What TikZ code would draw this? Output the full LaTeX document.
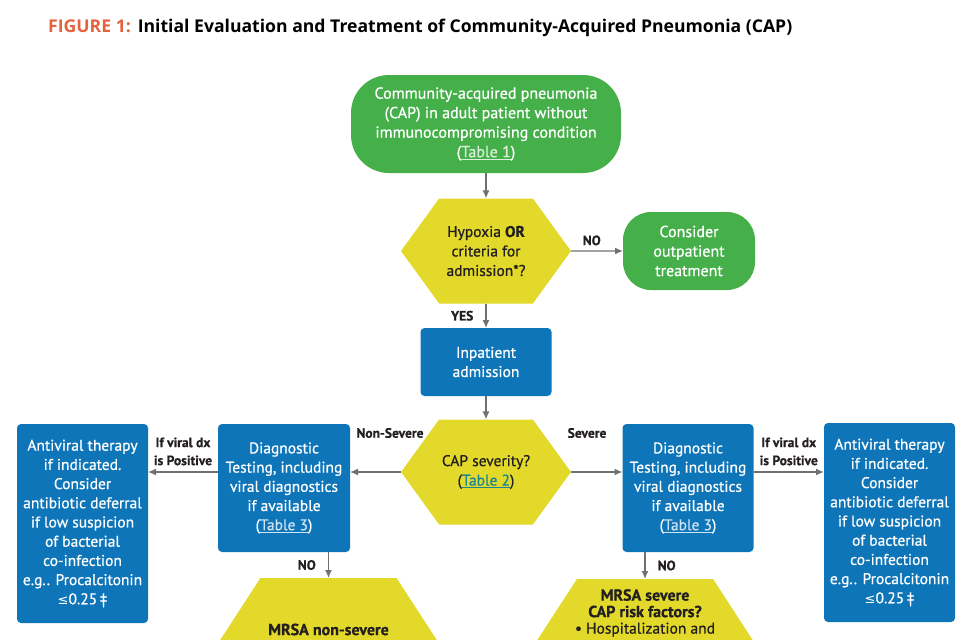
\documentclass[tikz,border=0pt]{standalone}
\usepackage{fontspec}
\setmainfont{PT Sans}[FakeBold=0.7]
\newfontfamily\titlefont{Open Sans}
\newfontfamily\symfont{DejaVu Sans}
\usetikzlibrary{positioning, arrows.meta, shapes.symbols}

\definecolor{capgreen}{HTML}{45B04A}
\definecolor{capblue}{HTML}{0F75B9}
\definecolor{capyellow}{HTML}{E2D92B}
\definecolor{capgrey}{HTML}{707070}
\definecolor{caporange}{HTML}{E5623C}
\definecolor{capteal}{HTML}{1B8590}
\definecolor{capink}{HTML}{231F20}

\newcommand{\tablelink}[2][white]{\textcolor{#1}{\underline{#2}}}

\tikzset{
    startbox/.style={fill=capgreen, text=white, align=center, inner sep=0pt, outer sep=0pt, font=\fontsize{16}{19.5}\selectfont},
    procbox/.style={fill=capblue, text=white, align=center, inner sep=0pt, outer sep=0pt, rounded corners=4pt, font=\fontsize{15.5}{19.2}\selectfont},
    decision/.style={shape=signal, signal to=west and east, signal pointer angle=108, fill=capyellow, text=capink, align=center, inner sep=0pt, outer sep=0pt, minimum width=170pt, minimum height=105pt, font=\fontsize{15.5}{19.5}\selectfont},
    hextext/.style={text=capink, align=center, inner sep=0pt, font=\fontsize{15.5}{16.5}\selectfont},
    elabel/.style={text=capink, align=center, inner sep=0pt, font=\bfseries\fontsize{13.5}{18}\selectfont},
    arrow/.style={-{Latex[length=8pt, width=7pt]}, line width=1.4pt, capgrey}
}

\begin{document}
\begin{tikzpicture}[x=1pt, y=-1pt]
        \useasboundingbox (0,0) rectangle (975,640);
        \clip (0,0) rectangle (975,640);

        % Title
        \node[anchor=west, inner sep=0pt, font=\titlefont\bfseries\fontsize{17.6}{21}\selectfont] (title) at (48,28)
            {\textcolor{caporange}{FIGURE 1:}\hspace{7pt}Initial Evaluation and Treatment of Community-Acquired Pneumonia (CAP)};

        % Top of the chart
        \node[startbox, rounded corners=38pt, minimum width=270pt, minimum height=98pt] (cap) at (486,124)
            {Community-acquired pneumonia\\(CAP) in adult patient without\\immunocompromising condition\\(\tablelink[white!80!capgreen]{Table 1})};
        \node[decision] (hypox) at (486,251) {Hypoxia \textbf{OR}\\criteria for\\admission*?};
        \node[startbox, rounded corners=28pt, minimum width=132pt, minimum height=78pt] (outpt) at (689,251)
            {Consider\\outpatient\\treatment};
        \node[procbox, minimum width=131pt, minimum height=68pt] (inpt) at (486,362) {Inpatient\\admission};
        \node[decision] (sever) at (486,472) {CAP severity?\\(\tablelink[capteal]{Table 2})};

        % Non-severe side
        \node[procbox, minimum width=132pt, minimum height=128pt] (ldiag) at (284,488)
            {Diagnostic\\Testing, including\\viral diagnostics\\if available\\(\tablelink[white!80!capblue]{Table 3})};
        \node[procbox, minimum width=131pt, minimum height=199pt] (lanti) at (82.5,523.5)
            {Antiviral therapy\\if indicated.\\Consider\\antibiotic deferral\\if low suspicion\\of bacterial\\co-infection\\e.g.. Procalcitonin\\{\symfont\fontsize{13}{14}\selectfont ≤}0.25\,‡};
        \node[decision, signal pointer angle=114, minimum width=240pt, minimum height=160pt] (lmrsa) at (328.5,658) {};
        \node[hextext, font=\bfseries\fontsize{16}{17}\selectfont] (lmrsat) at (328.5,629.5) {MRSA non-severe};

        % Severe side
        \node[procbox, minimum width=131pt, minimum height=128pt] (rdiag) at (688,488)
            {Diagnostic\\Testing, including\\viral diagnostics\\if available\\(\tablelink[white!80!capblue]{Table 3})};
        \node[procbox, minimum width=131pt, minimum height=199pt] (ranti) at (889.5,522.5)
            {Antiviral therapy\\if indicated.\\Consider\\antibiotic deferral\\if low suspicion\\of bacterial\\co-infection\\e.g.. Procalcitonin\\{\symfont\fontsize{13}{14}\selectfont ≤}0.25\,‡};
        \node[decision, signal pointer angle=114, minimum width=240pt, minimum height=160pt] (rmrsa) at (645,659) {};
        \node[hextext, below=10pt of rmrsa.north] (rmrsat)
            {\textbf{\fontsize{16}{17}\selectfont MRSA severe}\\\textbf{\fontsize{16}{17}\selectfont CAP risk factors?}\\[0pt]• Hospitalization and};

        % Edge labels
        \node[elabel] (nsevl) at (390,433) {Non-Severe};
        \node[elabel] (sevl) at (587,433) {Severe};

        % Connectors
        \draw[arrow] (cap) -- (hypox);
        \draw[arrow] (hypox) -- node[elabel, above=5pt, pos=0.4] {NO} (outpt);
        \draw[arrow] (hypox) -- node[elabel, left=12pt] {YES} (inpt);
        \draw[arrow] (inpt) -- (sever);
        \draw[arrow] (sever.west) -- (sever.west -| ldiag.east);
        \draw[arrow] (sever.east) -- (sever.east -| rdiag.west);
        \draw[arrow] (sever.west -| ldiag.west) -- node[elabel, above=6pt] {If viral dx\\is Positive} (sever.west -| lanti.east);
        \draw[arrow] (sever.east -| rdiag.east) -- node[elabel, above=6pt] {If viral dx\\is Positive} (sever.east -| ranti.west);
        \draw[arrow] (lmrsa.north |- ldiag.south) -- node[elabel, left=12pt] {NO} (lmrsa.north);
        \draw[arrow] (rmrsa.north |- rdiag.south) -- node[elabel, right=12pt] {NO} (rmrsa.north);
    \end{tikzpicture}
\end{document}
